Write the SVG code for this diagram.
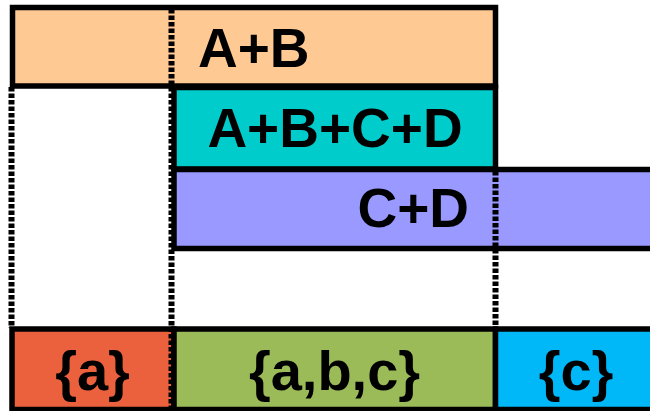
<svg xmlns="http://www.w3.org/2000/svg" width="650" height="411" viewBox="0 0 650 411">
  <style>
    .box { stroke: #000; stroke-width: 5.5; }
    .lbl { font-family: "Liberation Sans", Arial, sans-serif; font-weight: bold; font-size: 55px; fill: #000; }
    .set { font-size: 56px; text-anchor: middle; }
    .guide { stroke: #000; stroke-width: 6; stroke-dasharray: 4.5 2; fill: none; }
  </style>
  <rect x="0" y="0" width="650" height="411" fill="#fff"/>
  <g id="node-ab">
    <rect class="box" x="12.5" y="7.5" width="483" height="78.5" fill="#FFC994"/>
    <text class="lbl" x="198" y="67">A+B</text>
  </g>
  <g id="node-abcd">
    <rect class="box" x="174" y="87.5" width="321.5" height="81.5" fill="#00CCCC"/>
    <text class="lbl" x="335" y="147" text-anchor="middle">A+B+C+D</text>
  </g>
  <g id="node-cd">
    <rect class="box" x="174" y="169.5" width="490" height="79" fill="#9999FF"/>
    <text class="lbl" x="469" y="227" text-anchor="end">C+D</text>
  </g>
  <g id="node-set-a">
    <rect class="box" x="12" y="329" width="162" height="80.5" fill="#EB613D"/>
    <text class="lbl set" x="92.5" y="390">{a}</text>
  </g>
  <g id="node-set-abc">
    <rect class="box" x="174" y="329" width="321.5" height="80.5" fill="#9BBB59"/>
    <text class="lbl set" x="334.5" y="390">{a,b,c}</text>
  </g>
  <g id="node-set-c">
    <rect class="box" x="495.5" y="329" width="170" height="80.5" fill="#00B8F8"/>
    <text class="lbl set" x="576" y="390">{c}</text>
  </g>
  <g id="connectors">
    <line class="guide" x1="171.5" y1="9" x2="171.5" y2="409"/>
    <line class="guide" x1="11.5" y1="87" x2="11.5" y2="328"/>
    <line class="guide" x1="495.5" y1="171" x2="495.5" y2="328"/>
  </g>
</svg>
